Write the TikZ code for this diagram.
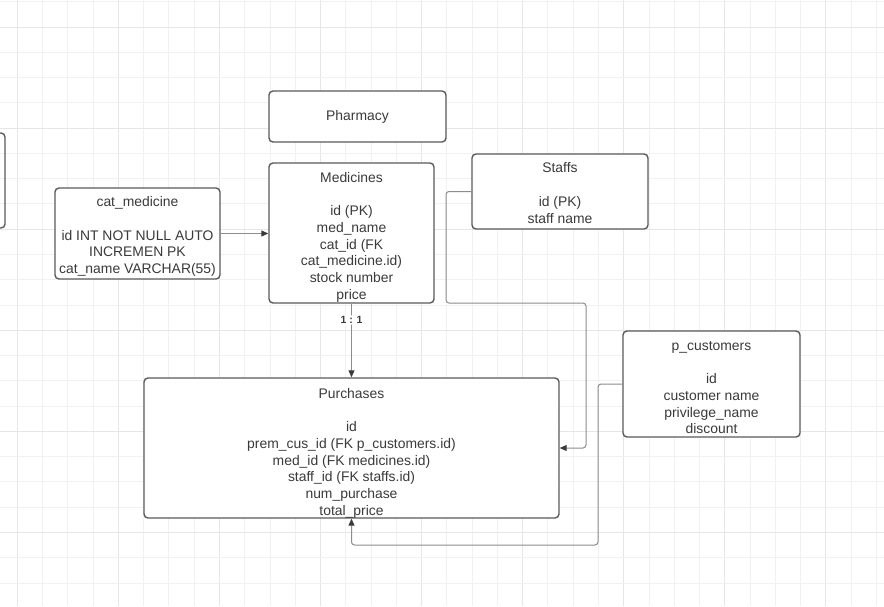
\documentclass[tikz,border=0pt]{standalone}
\usepackage{fontspec}
\setmainfont{Liberation Sans}
\usetikzlibrary{arrows.meta}
\definecolor{gridminor}{HTML}{F1F1F1}
\definecolor{gridmajor}{HTML}{E6E6E6}
\definecolor{boxline}{HTML}{5A5A5A}
\definecolor{txt}{HTML}{3A3A3A}
\definecolor{linkgray}{HTML}{8C8C8C}
% extra room above a title line, pushing the centred text block down
\newcommand{\titlegap}[1]{\rule{0pt}{\dimexpr10.2pt+#1\relax}}
\begin{document}
\begin{tikzpicture}[x=1pt,y=-1pt,
  entity/.style={draw=boxline, line width=1.4pt, rounded corners=4pt, fill=white,
    inner sep=0pt, align=center, text=txt, font=\fontsize{13.9}{16.7}\selectfont},
  link/.style={draw=linkgray, line width=1pt, rounded corners=3pt},
  tip/.style={-{Triangle[length=7pt,width=6pt,color=txt]}},
  gridline/.style={line width=1pt}
]
\useasboundingbox (0,0) rectangle (884,606);
\begin{scope}
\clip (0,0) rectangle (884,606);
\fill[white] (0,0) rectangle (884,606);

% background grid
\foreach \k in {0,...,34}{
  \pgfmathtruncatemacro\m{mod(\k,4)}
  \ifnum\m=0 \def\gc{gridmajor}\else\def\gc{gridminor}\fi
  \draw[gridline, draw=\gc] ({17.3+25.27*\k},0) -- ({17.3+25.27*\k},606);
}
\foreach \k in {0,...,24}{
  \pgfmathtruncatemacro\m{mod(\k,4)}
  \ifnum\m=1 \def\gc{gridmajor}\else\def\gc{gridminor}\fi
  \draw[gridline, draw=\gc] (0,{1.8+25.27*\k}) -- (884,{1.8+25.27*\k});
}

% box cut off at the left edge
\draw[draw=boxline, line width=1.4pt, rounded corners=4pt] (-20,133) rectangle (5,228);

% entities
\node[entity, minimum width=177pt, minimum height=51pt] (pharmacy) at (357.5,116.5) {Pharmacy};

\node[entity, minimum width=165pt, minimum height=140pt] (medicines) at (351.5,233)
  {\titlegap{8pt}Medicines\\ \\ id (PK)\\ med\_name\\ cat\_id (FK\\ cat\_medicine.id)\\ stock number\\ price};

\node[entity, minimum width=165pt, minimum height=91pt] (catmed) at (137.5,233.5)
  {\titlegap{6pt}cat\_medicine\\ \\ id INT NOT NULL AUTO\\ INCREMEN PK\\ cat\_name VARCHAR(55)};

\node[entity, minimum width=176pt, minimum height=75pt] (staffs) at (560,191.5)
  {\titlegap{3pt}Staffs\\ \\ id (PK)\\ staff name};

\node[entity, minimum width=177pt, minimum height=106pt] (pcust) at (711.5,384)
  {\titlegap{6pt}p\_customers\\ \\ id\\ customer name\\ privilege\_name\\ discount};

\node[entity, minimum width=415pt, minimum height=140pt] (purch) at (351.5,448)
  {\titlegap{10pt}Purchases\\ \\ id\\ prem\_cus\_id (FK p\_customers.id)\\ med\_id (FK medicines.id)\\ staff\_id (FK staffs.id)\\ num\_purchase\\ total\_price};

% bend points of the routed connectors
\coordinate (s1) at (446,191.5);
\coordinate (s2) at (446,303);
\coordinate (s3) at (586,303);
\coordinate (s4) at (586,448);
\coordinate (c1) at (598,384);
\coordinate (c2) at (598,545);
\coordinate (c3) at (351.5,545);

% connectors
\draw[link, tip] (catmed.east) -- (catmed.east -| medicines.west);
\draw[link, tip] (medicines.south) -- (purch.north)
  node[pos=0.22, fill=white, inner sep=1pt, text=txt, font=\fontsize{10.5}{12}\selectfont\bfseries] (ratio) {1 : 1};
\draw[link, tip] (staffs.west) -- (s1) -- (s2) -- (s3) -- (s4) -- (purch.east);
\draw[link, tip] (pcust.west) -- (c1) -- (c2) -- (c3) -- (purch.south);
\end{scope}
\end{tikzpicture}
\end{document}
